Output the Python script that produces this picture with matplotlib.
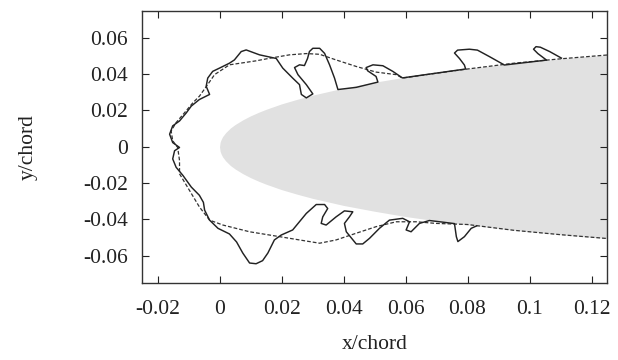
import matplotlib
matplotlib.use('Agg')
import matplotlib.pyplot as plt

# Perfil (borde de ataque, semiespesor)
airfoil_x = [0, 0.0002, 0.0005, 0.001, 0.002, 0.0035, 0.005, 0.0075, 0.01, 0.0125,
             0.015, 0.02, 0.025, 0.03, 0.04, 0.05, 0.06, 0.075, 0.09, 0.1, 0.115, 0.13]
airfoil_t = [0, 0.0025, 0.0039, 0.0056, 0.0078, 0.0103, 0.0122, 0.0148, 0.0170, 0.0189,
             0.0206, 0.0236, 0.0261, 0.0284, 0.0323, 0.0355, 0.0384, 0.0420, 0.0450,
             0.0468, 0.0492, 0.0512]

# Forma del hielo (linea continua)
ice_x = [0.1103, 0.1065, 0.1035, 0.1021, 0.1013, 0.1027, 0.1055, 0.0919, 0.0871, 0.0832,
         0.0806, 0.0768, 0.0758, 0.0774, 0.0790, 0.0794, 0.0590, 0.0559, 0.0527, 0.0495,
         0.0473, 0.0478, 0.0505, 0.0511, 0.0441, 0.0382, 0.0371, 0.0355, 0.0339, 0.0323,
         0.0301, 0.0290, 0.0284, 0.0274, 0.0258, 0.0242, 0.0253, 0.0280, 0.0301, 0.0280,
         0.0264, 0.0258, 0.0236, 0.0204, 0.0183, 0.0129, 0.0086, 0.0070, 0.0048, 0.0032,
         0.0, -0.0022, -0.0038, -0.0043, -0.0032, -0.0065, -0.0091, -0.0107, -0.0129,
         -0.0151, -0.0161, -0.0151, -0.0129, -0.0145, -0.0151, -0.0140, -0.0118, -0.0091,
         -0.0065, -0.0052, -0.0048, -0.0032, -0.0005, 0.0032, 0.0055, 0.0075, 0.0097,
         0.0118, 0.0139, 0.0156, 0.0177, 0.0199, 0.0236, 0.0280, 0.0312, 0.0339, 0.0349,
         0.0333, 0.0328, 0.0344, 0.0376, 0.0403, 0.0430, 0.0419, 0.0403, 0.0409, 0.0441,
         0.0462, 0.0484, 0.0516, 0.0548, 0.0591, 0.0613, 0.0602, 0.0618, 0.0645, 0.0677,
         0.0758, 0.0764, 0.0769, 0.0790, 0.0812, 0.0829]
ice_y = [0.0488, 0.0524, 0.0548, 0.0551, 0.0537, 0.0513, 0.0477, 0.0450, 0.0496, 0.0532,
         0.0537, 0.0532, 0.0516, 0.0486, 0.0450, 0.0428, 0.0379, 0.0415, 0.0446, 0.0451,
         0.0436, 0.0418, 0.0387, 0.0356, 0.0327, 0.0315, 0.0378, 0.0451, 0.0514, 0.0542,
         0.0542, 0.0524, 0.0486, 0.0447, 0.0451, 0.0436, 0.0397, 0.0342, 0.0291, 0.0269,
         0.0288, 0.0342, 0.0378, 0.0433, 0.0486, 0.0506, 0.0533, 0.0524, 0.0478, 0.0460,
         0.0433, 0.0415, 0.0378, 0.0333, 0.0288, 0.0260, 0.0224, 0.0187, 0.0142,
         0.0115, 0.0069, 0.0023, -0.0004, -0.0022, -0.0067, -0.0113, -0.0158, -0.0222,
         -0.0267, -0.0306, -0.0349, -0.0404, -0.0449, -0.0480, -0.0524, -0.0585, -0.0640,
         -0.0644, -0.0627, -0.0585, -0.0513, -0.0486, -0.0458, -0.0367, -0.0318, -0.0318, -0.0340,
         -0.0386, -0.0422, -0.0431, -0.0386, -0.0353, -0.0358, -0.0386, -0.0422, -0.0468, -0.0535,
         -0.0535, -0.0504, -0.0449, -0.0404, -0.0394, -0.0413, -0.0458, -0.0468, -0.0422, -0.0406,
         -0.0423, -0.0495, -0.0522, -0.0495, -0.0449, -0.0436]

# Envolvente (linea discontinua)
env_x = [0.125, 0.11, 0.095, 0.08, 0.07, 0.059, 0.0570, 0.0505, 0.0441, 0.0376, 0.0323,
         0.0280, 0.0226, 0.0161, 0.0118, 0.0032, -0.0016, -0.0042, -0.0065, -0.0086,
         -0.0113, -0.0140, -0.0156, -0.0151, -0.0135, -0.0129, -0.0129, -0.0097, -0.0065,
         -0.0032, 0.0011, 0.0097, 0.0194, 0.0258, 0.0323, 0.0376, 0.0441, 0.0505, 0.0570,
         0.0635, 0.0699, 0.08, 0.095, 0.11, 0.125]
env_y = [0.0505, 0.0484, 0.0460, 0.0428, 0.0405, 0.0378, 0.0397, 0.0411, 0.0442, 0.0478,
         0.0509, 0.0513, 0.0506, 0.0487, 0.0473, 0.0451, 0.0397, 0.0333, 0.0278, 0.0242,
         0.0187, 0.0133, 0.0087, 0.0033, -0.0004, -0.0076, -0.0149, -0.0240, -0.0331,
         -0.0404, -0.0431, -0.0468, -0.0495, -0.0513, -0.0531, -0.0513, -0.0476, -0.0440,
         -0.0413, -0.0413, -0.0422, -0.0428, -0.0460, -0.0484, -0.0505]

xticks = [-0.02, 0, 0.02, 0.04, 0.06, 0.08, 0.1, 0.12]
yticks = [-0.06, -0.04, -0.02, 0, 0.02, 0.04, 0.06]

plt.rcParams['font.family'] = 'serif'
plt.rcParams['font.serif'] = ['Liberation Serif']
plt.rcParams['axes.unicode_minus'] = False

fig = plt.figure(figsize=(6.18, 3.6), dpi=100)
ax = fig.add_axes([0.2298, 0.2139, 0.7524, 0.7569])

# Perfil relleno en gris
lower_t = [-t for t in airfoil_t]
ax.fill_between(airfoil_x, lower_t, airfoil_t, color='#e1e1e1', lw=0, zorder=1)

ax.plot(env_x, env_y, color='#333333', lw=0.9, ls=(0, (3, 1.6)), zorder=2)
ax.plot(ice_x, ice_y, color='#222222', lw=1.05, zorder=3)

ax.set_xlim(-0.025, 0.125)
ax.set_ylim(-0.075, 0.075)
ax.set_xticks(xticks)
ax.set_yticks(yticks)
ax.set_xticklabels(['%g' % v for v in xticks])
ax.set_yticklabels(['%g' % v for v in yticks])
ax.tick_params(direction='in', length=5, width=0.8, top=True, right=True,
               labelsize=15.5, colors='#222222', pad=10)
ax.tick_params(axis='x', pad=12)
for s in ax.spines.values():
    s.set_linewidth(1.0)
    s.set_color('#333333')

ax.set_xlabel('x/chord', fontsize=15.5, color='#222222', labelpad=12)
ax.set_ylabel('y/chord', fontsize=15.5, color='#222222', labelpad=33)

fig.savefig('out.png')
